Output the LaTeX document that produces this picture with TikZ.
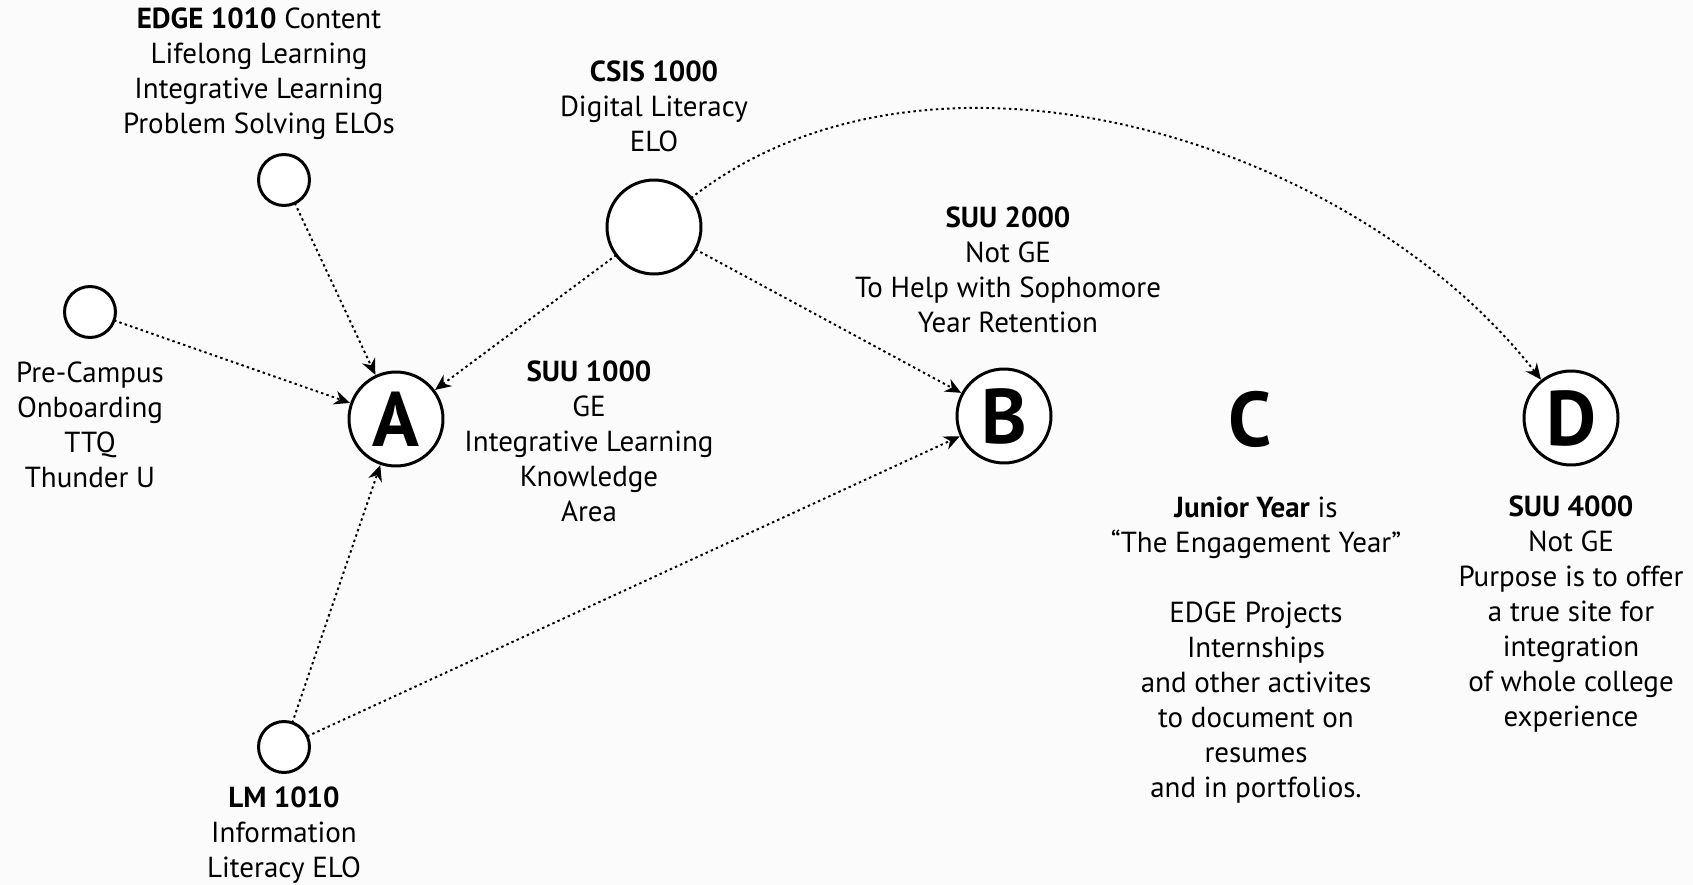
\documentclass[tikz,border=0pt]{standalone}
\usepackage{fontspec}
\setmainfont{PT Sans}
\usetikzlibrary{arrows.meta}

\begin{document}
\begin{tikzpicture}[x=0.02cm, y=-0.02cm,
  every node/.style={font=\fontsize{16.5}{19.9}\selectfont, align=center, inner sep=0pt, outer sep=0pt},
  letter/.style={font=\fontsize{44}{44}\selectfont\bfseries},
  bigcirc/.style={circle, draw, line width=1.7pt, fill=white, minimum size=1.88cm},
  smallcirc/.style={circle, draw, line width=1.7pt, fill=white, minimum size=1.02cm},
  link/.style={-{Stealth[length=9pt, width=8pt]}, dash pattern=on 1.4pt off 1.8pt, line width=1.1pt, shorten >=1pt}]
\fill[gray!3] (0,0) rectangle (1693,885);
\useasboundingbox (0,0) rectangle (1693,885);

\node[bigcirc, letter] (A) at (396,419) {A};
\node[bigcirc, letter] (B) at (1004,416) {B};
\node[letter] (C) at (1250,419) {C};
\node[bigcirc, letter] (D) at (1571,418) {D};

\node[smallcirc] (edge) at (284,180) {};
\node[smallcirc] (pre) at (90,312) {};
\node[bigcirc] (csis) at (654,227) {};
\node[smallcirc] (lm) at (284,747) {};

\node (edgetxt) at (259,74) {\textbf{EDGE 1010} Content\\Lifelong Learning\\Integrative Learning\\Problem Solving ELOs};
\node (csistxt) at (654,106) {\textbf{CSIS 1000}\\Digital Literacy\\ELO};
\node (pretxt) at (90,425) {Pre-Campus\\Onboarding\\TTQ\\Thunder U};
\node (lmtxt) at (284,835) {\textbf{LM 1010}\\Information\\Literacy ELO};
\node (Atxt) at (589,441) {\textbf{SUU 1000}\\GE\\Integrative Learning\\Knowledge\\Area};
\node (Btxt) at (1008,270) {\textbf{SUU 2000}\\Not GE\\To Help with Sophomore\\Year Retention};
\node (Ctxt) at (1256,650) {\textbf{Junior Year} is\\“The Engagement Year”\\[19.9pt]EDGE Projects\\Internships\\and other activites\\to document on\\resumes\\and in portfolios.};
\node (Dtxt) at (1571,614) {\textbf{SUU 4000}\\Not GE\\Purpose is to offer\\a true site for\\integration\\of whole college\\experience};

\draw[link] (edge) -- (A);
\draw[link] (pre) -- (A);
\draw[link] (csis) -- (A);
\draw[link] (lm) -- (A);
\draw[link] (csis) -- (B);
\draw[link] (lm) -- (B);
\draw[link] (csis) to[out=38, in=128, looseness=0.9] (D);
\end{tikzpicture}
\end{document}
